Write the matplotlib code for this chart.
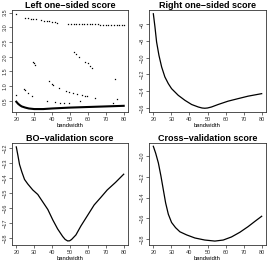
import matplotlib
matplotlib.use("Agg")
import matplotlib.pyplot as plt

plt.rcParams['font.family'] = ['Liberation Sans', 'DejaVu Sans']

# ---------------- data ----------------
# Left one-sided score: scattered points
left_pts_x = [20,
              25, 26.5, 28, 29.5, 31, 34, 35.5, 37, 38.5, 40, 41.5, 43,
              49, 50.5, 52, 53.5, 55, 56.5, 58, 59.5, 61, 62.5, 64, 65.5, 67, 68.5, 70, 71.5, 73, 74.5, 76, 77.5, 79, 80,
              52, 53.5, 55.2, 58.5, 59.8, 61, 62.2,
              29.3, 29.8, 30.4,
              38.1, 40, 40.4, 43.7,
              48, 49.6, 51.7, 53.9, 56.7, 58.1, 59.4, 64.1,
              24.3, 24.8, 26.7, 28.9,
              20,
              37.2, 41.9, 44.3, 46.9, 49.6, 55.7, 74.3, 76.5, 75.2]
left_pts_y = [3.45,
              3.33, 3.32, 3.30, 3.29, 3.27, 3.25, 3.23, 3.22, 3.20, 3.19, 3.17, 3.16,
              3.13, 3.13, 3.12, 3.12, 3.12, 3.11, 3.11, 3.11, 3.10, 3.10, 3.10, 3.10, 3.09, 3.09, 3.09, 3.09, 3.09, 3.09, 3.09, 3.09, 3.09, 3.09,
              2.15, 2.08, 1.98, 1.83, 1.78, 1.70, 1.62,
              1.83, 1.77, 1.72,
              1.17, 1.07, 1.05, 0.95,
              0.84, 0.81, 0.75, 0.73, 0.69, 0.66, 0.66, 0.61,
              0.89, 0.86, 0.75, 0.66,
              0.69,
              0.50, 0.47, 0.44, 0.43, 0.41, 0.49, 0.43, 0.55, 1.23]
# Left one-sided score: dense lower curve
left_curve_x = [20, 21, 22, 23, 25, 27, 30, 35, 40, 50, 60, 70, 80]
left_curve_y = [0.47, 0.40, 0.35, 0.31, 0.27, 0.24, 0.22, 0.22, 0.24, 0.27, 0.29, 0.31, 0.33]

right_x = [20, 20.9, 21.8, 23.1, 24.6, 26.4, 28.3, 30.1, 33.8, 37.5, 41.2, 44.9, 47, 48.5, 50,
           52.2, 55.9, 61.4, 66.9, 72.5, 80]
right_y = [-4.72, -6.3, -8.1, -9.7, -11.1, -12.3, -13.1, -13.7, -14.5, -15.1, -15.6, -15.9, -16.02, -16.05, -16.02,
           -15.9, -15.6, -15.2, -14.9, -14.6, -14.3]

bo_x = [20, 20.9, 21.8, 23.1, 24.6, 26.4, 29.2, 32.0, 34.8, 37.6, 40.4, 43.1, 45.9, 47.3, 48.7,
        49.8, 50.9, 53.3, 56.1, 59.8, 63.5, 67.2, 70.8, 75.4, 80]
bo_y = [-11.93, -12.5, -13.1, -13.6, -14.1, -14.4, -14.8, -15.1, -15.6, -16.1, -16.8, -17.4, -17.9, -18.1, -18.2,
        -18.19, -18.1, -17.8, -17.2, -16.5, -15.8, -15.3, -14.8, -14.3, -13.75]

cv_x = [20, 21.3, 22.8, 24.2, 25.5, 26.8, 28.3, 30.1, 32.3, 34.7, 38.4, 43.0, 48.5, 54.1,
        58.7, 63.3, 67.9, 72.5, 76.2, 80]
cv_y = [-9.03, -9.7, -10.65, -11.9, -13.2, -14.5, -15.6, -16.4, -16.9, -17.3, -17.6, -17.9, -18.1, -18.2,
        -18.1, -17.8, -17.35, -16.8, -16.3, -15.8]

titles = ["Left one\u2212sided score", "Right one\u2212sided score",
          "BO\u2212validation score", "Cross\u2212validation score"]
xticks = [20, 30, 40, 50, 60, 70, 80]
yticks_left = [0.5, 1.0, 1.5, 2.0, 2.5, 3.0, 3.5]
yticks_right = [-6, -8, -10, -12, -14, -16]
yticks_bo = [-12, -13, -14, -15, -16, -17, -18]
yticks_cv = [-10, -12, -14, -16, -18]

# ---------------- figure ----------------
W, H = 272, 266
fig = plt.figure(figsize=(W / 100, H / 100), dpi=100)

def box(l, t, r, b):
    return [l / W, 1 - b / H, (r - l) / W, (b - t) / H]

axes = [fig.add_axes(box(12, 10, 128, 112)),
        fig.add_axes(box(149, 10, 266, 112)),
        fig.add_axes(box(12, 143, 128, 245)),
        fig.add_axes(box(149, 143, 266, 245))]

ax = axes[0]
ax.plot(left_pts_x, left_pts_y, ls='none', marker='s', ms=0.9, mew=0, color='black')
ax.plot(left_curve_x, left_curve_y, color='black', lw=1.5)
ax.set_ylim(0.12, 3.59)
ax.set_yticks(yticks_left)
ax.set_yticklabels(["0.5", "1.0", "1.5", "2.0", "2.5", "3.0", "3.5"])

ax = axes[1]
ax.plot(right_x, right_y, color='black', lw=0.9)
ax.set_ylim(-16.5, -4.27)
ax.set_yticks(yticks_right)
ax.set_yticklabels([f"\u2212{abs(v)}" for v in yticks_right])

ax = axes[2]
ax.plot(bo_x, bo_y, color='black', lw=0.9)
ax.set_ylim(-18.47, -11.67)
ax.set_yticks(yticks_bo)
ax.set_yticklabels([f"\u2212{abs(v)}" for v in yticks_bo])

ax = axes[3]
ax.plot(cv_x, cv_y, color='black', lw=0.9)
ax.set_ylim(-18.58, -8.71)
ax.set_yticks(yticks_cv)
ax.set_yticklabels([f"\u2212{abs(v)}" for v in yticks_cv])

for ax, t in zip(axes, titles):
    ax.set_xlim(17.6, 82.4)
    ax.set_xticks(xticks)
    ax.set_title(t, fontsize=6.5, fontweight='bold', pad=1.5)
    ax.set_xlabel("bandwidth", fontsize=4.2, labelpad=1.0)
    ax.tick_params(axis='both', direction='out', length=2.2, width=0.5,
                   labelsize=4, pad=1.2, color='#333333', labelcolor='#333333')
    for lab in ax.get_yticklabels():
        lab.set_rotation(90)
        lab.set_va('center')
    for s in ax.spines.values():
        s.set_linewidth(0.6)
        s.set_color('#333333')

fig.savefig("out.png", dpi=100)
